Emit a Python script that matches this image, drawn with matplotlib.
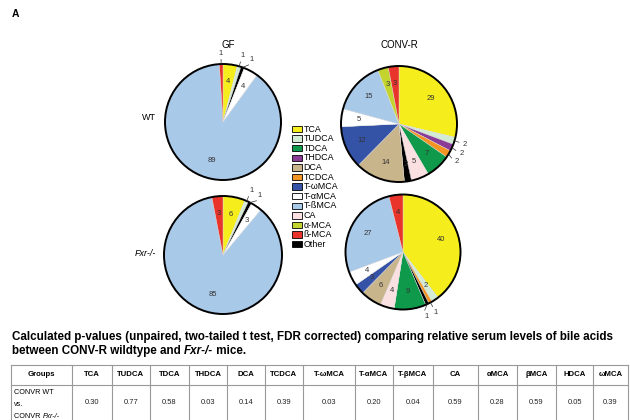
import numpy as np
import matplotlib
matplotlib.use('Agg')
import matplotlib.pyplot as plt
from matplotlib.patches import Circle, Rectangle

plt.rcParams['font.family'] = ['Liberation Sans', 'DejaVu Sans']

W, H = 630, 420

# bile acids, legend order
acids = ['TCA', 'TUDCA', 'TDCA', 'THDCA', 'DCA', 'TCDCA', 'T-ωMCA', 'T-αMCA',
         'T-ßMCA', 'CA', 'α-MCA', 'ß-MCA', 'Other']
acid_colors = ['#f6ee1c', '#d3ebd5', '#0e9a4a', '#8a3c97', '#c9b58c', '#f49422', '#3553a6',
               '#ffffff', '#a9c9e9', '#fbe0e1', '#c4d42e', '#e8342b', '#000000']

# slices clockwise from 12 o'clock (% of total)
gf_wt_names = ['TCA', 'TUDCA', 'Other', 'T-αMCA', 'T-ßMCA', 'ß-MCA']
gf_wt_values = [4, 1, 1, 4, 89, 1]
gf_ko_names = ['TCA', 'TUDCA', 'Other', 'T-αMCA', 'T-ßMCA', 'ß-MCA']
gf_ko_values = [6, 1, 1, 3, 85, 3]
conv_wt_names = ['TCA', 'TUDCA', 'THDCA', 'TCDCA', 'TDCA', 'CA', 'Other', 'DCA',
                 'T-ωMCA', 'T-αMCA', 'T-ßMCA', 'α-MCA', 'ß-MCA']
conv_wt_values = [29, 2, 2, 2, 7, 5, 2, 14, 12, 5, 15, 3, 3]
conv_ko_names = ['TCA', 'TUDCA', 'TCDCA', 'Other', 'TDCA', 'CA', 'DCA', 'T-ωMCA',
                 'T-αMCA', 'T-ßMCA', 'ß-MCA']
conv_ko_values = [40, 2, 1, 1, 9, 4, 6, 3, 4, 27, 4]

# p-value table
table_headers = ['Groups', 'TCA', 'TUDCA', 'TDCA', 'THDCA', 'DCA', 'TCDCA', 'T-ωMCA',
                 'T-αMCA', 'T-βMCA', 'CA', 'αMCA', 'βMCA', 'HDCA', 'ωMCA']
table_pvalues = ['0.30', '0.77', '0.58', '0.03', '0.14', '0.39', '0.03', '0.20',
                 '0.04', '0.59', '0.28', '0.59', '0.05', '0.39']

fig = plt.figure(figsize=(W / 100, H / 100), dpi=100)
ax0 = fig.add_axes([0, 0, 1, 1])
ax0.set_xlim(0, W)
ax0.set_ylim(H, 0)
ax0.axis('off')
renderer = fig.canvas.get_renderer()


def chain_text(x, y, parts, **kw):
    # consecutive text pieces with different styles on one line
    for s, style in parts:
        t = ax0.text(x, y, s, fontstyle=style, **kw)
        x += t.get_window_extent(renderer=renderer).width


def draw_pie(cx, cy, d, names, values, outside):
    pad = 1.45
    ax = fig.add_axes([(cx - d * pad / 2) / W, 1 - (cy + d * pad / 2) / H,
                       d * pad / W, d * pad / H])
    cols = [acid_colors[acids.index(n)] for n in names]
    wedges, _ = ax.pie(values, colors=cols, startangle=90, counterclock=False,
                       wedgeprops=dict(linewidth=0.3, edgecolor='#dddddd'))
    ax.set_aspect('auto')
    ax.set_xlim(-pad, pad)
    ax.set_ylim(-pad, pad)
    ax.add_patch(Circle((0, 0), 1, fill=False, lw=1.4, ec='black'))
    prev = None
    for i, wd in enumerate(wedges):
        mid = (wd.theta1 + wd.theta2) / 2
        if i in outside:
            la = mid
            if prev is not None and prev - la < 8:
                la = prev - 8
            prev = la
            r0, r1, r2 = 1.0, 1.08, 1.19
            ax.plot([r0 * np.cos(np.radians(mid)), r1 * np.cos(np.radians(la))],
                    [r0 * np.sin(np.radians(mid)), r1 * np.sin(np.radians(la))],
                    color='#333333', lw=0.5)
            ax.text(r2 * np.cos(np.radians(la)), r2 * np.sin(np.radians(la)), str(values[i]),
                    ha='center', va='center', fontsize=5.5, color='#333333')
        else:
            prev = None
            ax.text(0.7 * np.cos(np.radians(mid)), 0.7 * np.sin(np.radians(mid)), str(values[i]),
                    ha='center', va='center', fontsize=5.5, color='#333333')


draw_pie(223, 122, 116, gf_wt_names, gf_wt_values, [1, 2, 5])
draw_pie(399, 124, 116, conv_wt_names, conv_wt_values, [1, 2, 3])
draw_pie(223, 255, 118, gf_ko_names, gf_ko_values, [1, 2])
draw_pie(403, 252, 115, conv_ko_names, conv_ko_values, [2, 3])

# titles and row labels
ax0.text(12, 14, 'A', fontsize=7.5, fontweight='bold', va='center')
ax0.text(228, 45, 'GF', fontsize=7, ha='center', va='center')
ax0.text(399, 45, 'CONV-R', fontsize=7, ha='center', va='center')
ax0.text(156, 118, 'WT', fontsize=6.5, ha='right', va='center')
ax0.text(156, 253, 'Fxr-/-', fontsize=6.5, ha='right', va='center', fontstyle='italic')

# legend
for i, name in enumerate(acids):
    y = 129 + i * 9.6
    ax0.add_patch(Rectangle((292, y - 3.2), 10, 6.4, fc=acid_colors[i], ec='black', lw=0.6))
    ax0.text(303.5, y, name, fontsize=6.4, va='center')

# caption above table
ax0.text(12, 337, 'Calculated p-values (unpaired, two-tailed t test, FDR corrected) comparing '
         'relative serum levels of bile acids', fontsize=8.4, fontweight='bold', va='center')
chain_text(12, 351, [('between CONV-R wildtype and ', 'normal'), ('Fxr-/-', 'italic'),
                     (' mice.', 'normal')], fontsize=8.4, fontweight='bold', va='center')

# table grid
col_edges = [11, 72, 112, 150, 189, 227, 265, 303, 355, 393, 433, 478, 517, 556, 593, 628]
top, mid_line, bottom = 365, 385, 425
for y in [top, mid_line]:
    ax0.plot([col_edges[0], col_edges[-1]], [y, y], color='#999999', lw=0.8)
for x in col_edges:
    ax0.plot([x, x], [top, bottom], color='#999999', lw=0.8)
for j, head in enumerate(table_headers):
    xc = (col_edges[j] + col_edges[j + 1]) / 2
    ax0.text(xc, 375, head, fontsize=5.6, fontweight='bold', ha='center', va='center')
for j, pv in enumerate(table_pvalues):
    xc = (col_edges[j + 1] + col_edges[j + 2]) / 2
    ax0.text(xc, 403, pv, fontsize=5.4, ha='center', va='center', color='#222222')
ax0.text(14, 393, 'CONVR WT', fontsize=5.2, va='center')
ax0.text(14, 405, 'vs.', fontsize=5.2, va='center')
chain_text(14, 416, [('CONVR ', 'normal'), ('Fxr-/-', 'italic')], fontsize=5.2, va='center')

fig.savefig('out.png', dpi=100)
